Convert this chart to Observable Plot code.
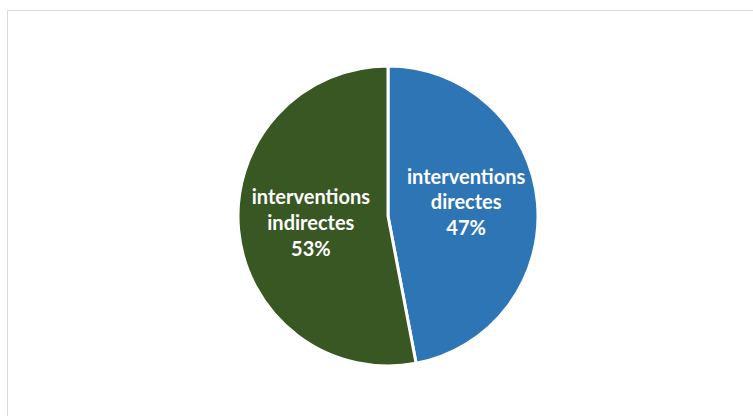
<!DOCTYPE html>
<html><head><meta charset="utf-8">
<script src="https://cdn.jsdelivr.net/npm/d3@7"></script>
<script src="https://cdn.jsdelivr.net/npm/@observablehq/plot@0.6"></script>
<style>
body{margin:0;background:#fff}
#wrap{position:relative;width:753px;height:416px;overflow:hidden}
#chart{position:absolute;left:0;top:0}
#border{position:absolute;left:7px;top:10px;width:780px;height:440px;border:1px solid #d9d9d9;box-sizing:border-box;pointer-events:none}
</style>
</head><body>
<div id="wrap"><div id="chart"></div><div id="border"></div></div>
<script>
const categories = ["interventions directes", "interventions indirectes"];
const labels = ["interventions\ndirectes", "interventions\nindirectes"];
const values = [47, 53];
const colors = ["#2E75B6", "#385723"];

const arcs = d3.pie().sort(null)(values);
const table = arcs.map((a, i) => ({
  category: categories[i],
  label: labels[i] + "\n" + values[i] + "%",
  start: a.startAngle,
  end: a.endAngle,
  mid: (a.startAngle + a.endAngle) / 2
}));

function pieMark(index, scales) {
  const cx = scales.x(0), cy = scales.y(0), r = scales.x(1) - cx;
  const arc = d3.arc().innerRadius(0).outerRadius(r);
  const g = d3.create("svg:g").attr("transform", `translate(${cx},${cy})`);
  g.selectAll("path").data(table).join("path")
    .attr("d", d => arc({startAngle: d.start, endAngle: d.end}))
    .attr("fill", d => scales.color(d.category))
    .attr("stroke", "white")
    .attr("stroke-width", 3)
    .attr("stroke-linejoin", "round");
  return g.node();
}

const chart = Plot.plot({
  width: 753,
  height: 416,
  marginLeft: 238,
  marginRight: 215,
  marginTop: 66,
  marginBottom: 50,
  style: {background: "transparent"},
  x: {domain: [-1, 1], axis: null},
  y: {domain: [-1, 1], axis: null},
  color: {domain: categories, range: colors},
  marks: [
    pieMark,
    Plot.text(table, {
      x: d => 0.52 * Math.sin(d.mid),
      y: d => 0.52 * Math.cos(d.mid) + 0.02 * Math.sin(d.mid),
      dy: -5,
      text: "label",
      fill: "white",
      fontWeight: "bold",
      fontSize: 20,
      fontFamily: "Lato",
      lineHeight: 1.28
    })
  ]
});
document.getElementById("chart").appendChild(chart);
</script>
</body></html>
